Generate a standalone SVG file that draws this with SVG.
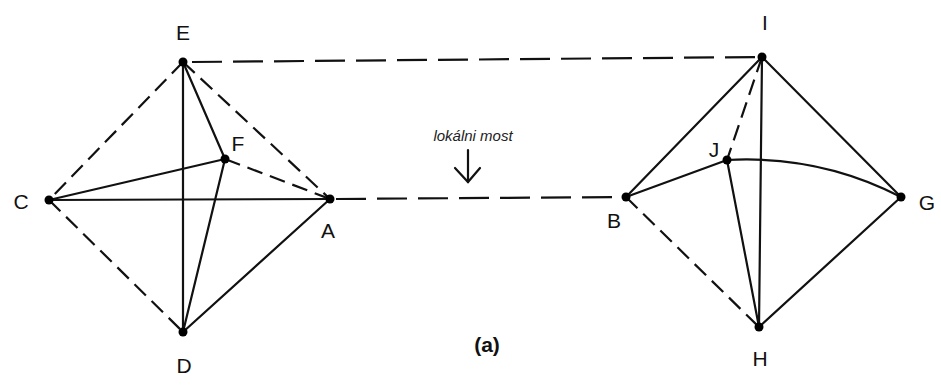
<svg xmlns="http://www.w3.org/2000/svg" width="941" height="385" viewBox="0 0 941 385">
<style>
.s{stroke:#111;stroke-width:2.2;fill:none;stroke-linecap:round}
.d{stroke:#111;stroke-width:2.2;fill:none;stroke-dasharray:16 8}
.w{stroke-dasharray:30 11}
.n{fill:#000}
.l{font-family:"Liberation Sans",Arial,sans-serif;font-size:21px;fill:#111;text-anchor:middle}
.t{font-family:"Liberation Sans",Arial,sans-serif;font-size:15px;font-style:italic;fill:#222;text-anchor:middle}
</style>
<rect width="941" height="385" fill="#fff"/>
<g id="connectors">
<line class="d" x1="183" y1="62" x2="49" y2="200"/>
<line class="d" x1="183" y1="62" x2="330" y2="199"/>
<line class="s" x1="183" y1="62" x2="183" y2="332"/>
<line class="s" x1="183" y1="62" x2="225" y2="159"/>
<line class="s" x1="49" y1="200" x2="225" y2="159"/>
<line class="s" x1="49" y1="200" x2="330" y2="199"/>
<line class="d" x1="225" y1="159" x2="330" y2="199"/>
<line class="s" x1="225" y1="159" x2="183" y2="332"/>
<line class="d" x1="49" y1="200" x2="183" y2="332"/>
<line class="s" x1="183" y1="332" x2="330" y2="199"/>
<line class="d w" x1="192" y1="62" x2="762" y2="57"/>
<line class="d w" x1="336" y1="199" x2="626" y2="197"/>
<line class="s" x1="762" y1="57" x2="626" y2="197"/>
<line class="s" x1="762" y1="57" x2="901" y2="197"/>
<line class="s" x1="762" y1="57" x2="759" y2="327"/>
<line class="d" x1="762" y1="57" x2="727" y2="160" stroke-dasharray="12 8"/>
<line class="s" x1="727" y1="160" x2="626" y2="197"/>
<path class="s" d="M727 160 Q820 155 901 197"/>
<line class="s" x1="727" y1="160" x2="759" y2="327"/>
<line class="d" x1="626" y1="197" x2="759" y2="327" stroke-dasharray="40 12"/>
<line class="s" x1="759" y1="327" x2="901" y2="197"/>
<line class="s" x1="468" y1="150" x2="468" y2="182"/>
<polyline class="s" points="455,168 468,182 480,168"/>
</g>
<g id="E"><circle class="n" cx="183" cy="62" r="4.5"/><text class="l" x="183" y="40">E</text></g>
<g id="F"><circle class="n" cx="225" cy="159" r="4.5"/><text class="l" x="238" y="151">F</text></g>
<g id="C"><circle class="n" cx="49" cy="200" r="4.5"/><text class="l" x="21" y="209">C</text></g>
<g id="A"><circle class="n" cx="330" cy="199" r="4.5"/><text class="l" x="328" y="238">A</text></g>
<g id="D"><circle class="n" cx="183" cy="332" r="4.5"/><text class="l" x="184" y="373">D</text></g>
<g id="I"><circle class="n" cx="762" cy="57" r="4.5"/><text class="l" x="765" y="30">I</text></g>
<g id="J"><circle class="n" cx="727" cy="160" r="4.5"/><text class="l" x="714" y="157">J</text></g>
<g id="B"><circle class="n" cx="626" cy="197" r="4.5"/><text class="l" x="614" y="228">B</text></g>
<g id="G"><circle class="n" cx="901" cy="197" r="4.5"/><text class="l" x="927" y="210">G</text></g>
<g id="H"><circle class="n" cx="759" cy="327" r="4.5"/><text class="l" x="760" y="366">H</text></g>
<text class="t" x="473" y="141">lokálni most</text>
<text class="l" x="487" y="352" font-size="25" font-weight="bold">(a)</text>
</svg>
